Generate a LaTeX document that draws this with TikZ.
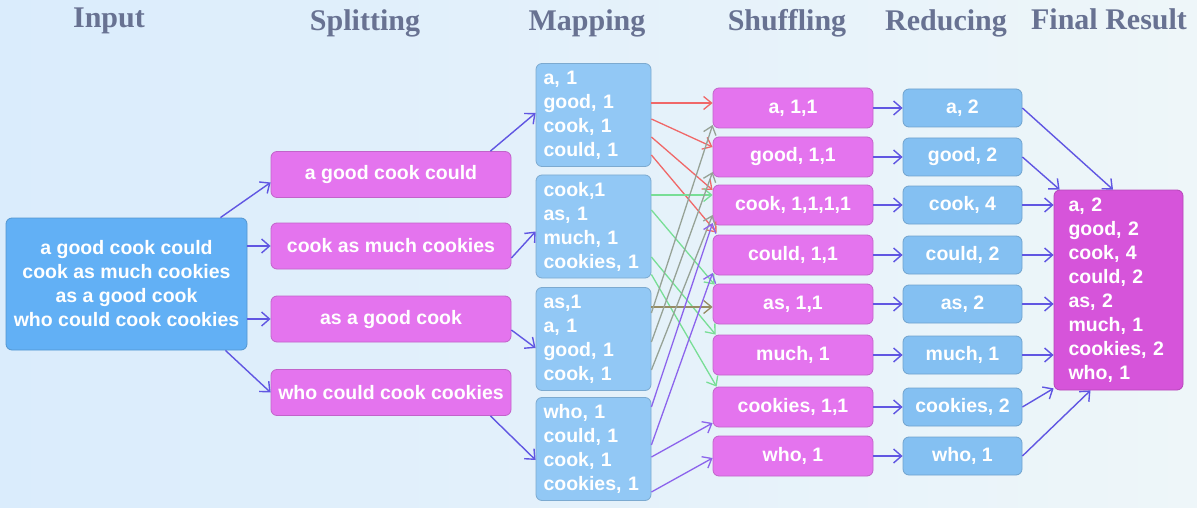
\documentclass[tikz,border=0pt]{standalone}
\usepackage{fontspec}
\setmainfont{Liberation Serif}
\setsansfont{Liberation Sans}
\usetikzlibrary{arrows.meta,calc}
\definecolor{bgL}{RGB}{218,236,252}
\definecolor{bgR}{RGB}{238,246,249}
\definecolor{inblue}{RGB}{98,176,245}
\definecolor{mapblue}{RGB}{146,200,245}
\definecolor{redblue}{RGB}{132,192,242}
\definecolor{magc}{RGB}{228,116,238}
\definecolor{finmag}{RGB}{214,84,218}
\definecolor{arrc}{RGB}{96,86,226}
\definecolor{hdc}{RGB}{104,114,146}
\definecolor{redc}{RGB}{240,104,104}
\definecolor{grnc}{RGB}{120,222,150}
\definecolor{gryc}{RGB}{150,162,150}
\definecolor{olvc}{RGB}{150,140,100}
\definecolor{purc}{RGB}{140,100,236}
\begin{document}
\begin{tikzpicture}[x=1pt,y=-1pt,
  box/.style={rounded corners=6pt, line width=0.8pt, text=white,
    font=\sffamily\bfseries\fontsize{19.5}{24}\selectfont, inner sep=0pt, align=center},
  inbox/.style={box, fill=inblue, draw=inblue!85!black, minimum width=241pt, minimum height=132pt},
  splitbox/.style={box, fill=magc, draw=magc!85!black, minimum width=240pt, minimum height=46pt},
  mapbox/.style={box, fill=mapblue, draw=mapblue!85!black, text width=100pt, inner xsep=7.5pt, align=left, minimum height=103pt},
  shufbox/.style={box, fill=magc, draw=magc!85!black, minimum width=160pt, minimum height=40pt},
  redbox/.style={box, fill=redblue, draw=redblue!85!black, minimum width=119pt, minimum height=38pt},
  finbox/.style={box, fill=finmag, draw=finmag!85!black, text width=100pt, inner xsep=14.5pt, align=left, minimum height=200pt},
  hd/.style={font=\bfseries\fontsize{30}{30}\selectfont, text=hdc, anchor=base, inner sep=0pt},
  arr/.style={-{Straight Barb[length=8pt,width=14pt]}, line width=1.4pt, draw=arrc},
  marr/.style={-{Straight Barb[length=8pt,width=13pt]}, line width=1.3pt, draw=#1},
]
\useasboundingbox (0,0) rectangle (1197,508);
\fill[left color=bgL, right color=bgR] (0,0) rectangle (1197,508);

% headers
\node[hd] (h1) at (109,28) {Input};
\node[hd] (h2) at (365,31) {Splitting};
\node[hd] (h3) at (587,31) {Mapping};
\node[hd] (h4) at (787,31) {Shuffling};
\node[hd] (h5) at (946,31) {Reducing};
\node[hd] (h6) at (1109,30) {Final Result};

% input
\node[inbox] (in) at (126.5,284) {a good cook could\\cook as much cookies\\as a good cook\\who could cook cookies};

% splitting
\node[splitbox] (s1) at (391,174.5) {a good cook could};
\node[splitbox] (s2) at (391,246) {cook as much cookies};
\node[splitbox] (s3) at (391,319) {as a good cook};
\node[splitbox] (s4) at (391,392.5) {who could cook cookies};

% mapping
\node[mapbox] (m1) at (593.5,115) {a, 1\\good, 1\\cook, 1\\could, 1};
\node[mapbox] (m2) at (593.5,226.5) {cook,1\\as, 1\\much, 1\\cookies, 1};
\node[mapbox] (m3) at (593.5,339) {as,1\\a, 1\\good, 1\\cook, 1};
\node[mapbox] (m4) at (593.5,449) {who, 1\\could, 1\\cook, 1\\cookies, 1};

% shuffling
\node[shufbox] (sh1) at (793,108) {a, 1,1};
\node[shufbox] (sh2) at (793,157) {good, 1,1};
\node[shufbox] (sh3) at (793,205) {cook, 1,1,1,1};
\node[shufbox] (sh4) at (793,255) {could, 1,1};
\node[shufbox] (sh5) at (793,304) {as, 1,1};
\node[shufbox] (sh6) at (793,355) {much, 1};
\node[shufbox] (sh7) at (793,407) {cookies, 1,1};
\node[shufbox] (sh8) at (793,456) {who, 1};

% reducing
\node[redbox] (r1) at (962.5,108) {a, 2};
\node[redbox] (r2) at (962.5,157) {good, 2};
\node[redbox] (r3) at (962.5,205) {cook, 4};
\node[redbox] (r4) at (962.5,255) {could, 2};
\node[redbox] (r5) at (962.5,304) {as, 2};
\node[redbox] (r6) at (962.5,355) {much, 1};
\node[redbox] (r7) at (962.5,407) {cookies, 2};
\node[redbox] (r8) at (962.5,456) {who, 1};

% final
\node[finbox] (fin) at (1118.5,290) {a, 2\\good, 2\\cook, 4\\could, 2\\as, 2\\much, 1\\cookies, 2\\who, 1};

% input -> splitting
\draw[arr] ([xshift=-27pt]in.north east) -- ([yshift=-8pt]s1.west);
\draw[arr] (in.east |- s2.west) -- (s2.west);
\draw[arr] (in.east |- s3.west) -- (s3.west);
\draw[arr] ([xshift=-22pt]in.south east) -- (s4.west);

% splitting -> mapping
\draw[arr] ([xshift=-21pt]s1.north east) -- ([yshift=2pt]m1.west);
\draw[arr] ([yshift=-12pt]s2.east) -- ([yshift=-5pt]m2.west);
\draw[arr] ([yshift=-11pt]s3.east) -- ([yshift=-9pt]m3.west);
\draw[arr] ([xshift=-21pt]s4.south east) -- ([yshift=-11pt]m4.west);

% mapping -> shuffling (red, M1)
\draw[marr=redc] ([yshift=12pt]m1.east) -- ([yshift=5pt]sh1.west);
\draw[marr=redc] ([yshift=-4pt]m1.east) -- ([yshift=10pt]sh2.west);
\draw[marr=redc] ([yshift=-22pt]m1.east) -- ([yshift=15pt]sh3.west);
\draw[marr=redc] ([yshift=-40pt]m1.east) -- ([xshift=4pt,yshift=2pt]sh4.north west);
% green, M2
\draw[marr=grnc] ([yshift=31.5pt]m2.east) -- ([yshift=10pt]sh3.west);
\draw[marr=grnc] ([yshift=16.5pt]m2.east) -- ([xshift=2pt,yshift=-1pt]sh5.north west);
\draw[marr=grnc] ([yshift=-30.5pt]m2.east) -- ([xshift=3pt]sh6.north west);
\draw[marr=grnc] ([yshift=-48pt]m2.east) -- ([xshift=4pt]sh7.north west);
% gray, M3
\draw[marr=olvc] ([yshift=32pt]m3.east) -- ([yshift=-3pt]sh5.west);
\draw[marr=gryc] ([yshift=26pt]m3.east) -- ([yshift=-17pt]sh1.west);
\draw[marr=gryc] ([yshift=-3pt]m3.east) -- ([yshift=-15pt]sh2.west);
\draw[marr=gryc] ([yshift=-31pt]m3.east) -- ([yshift=-10pt]sh3.west);
% purple, M4
\draw[marr=purc] ([yshift=42pt]m4.east) -- ([yshift=-18pt]sh3.west);
\draw[marr=purc] ([yshift=4pt]m4.east) -- ([yshift=-18pt]sh4.west);
\draw[marr=purc] ([yshift=-8pt]m4.east) -- ([yshift=-16pt]sh7.west);
\draw[marr=purc] ([yshift=-43pt]m4.east) -- ([yshift=-2pt]sh8.west);

% shuffling -> reducing
\foreach \i in {1,...,8}{\draw[arr] (sh\i.east) -- (r\i.west);}

% reducing -> final
\draw[arr] (r1.east) -- ([xshift=-5.5pt]fin.north);
\draw[arr] (r2.east) -- ([xshift=6pt]fin.north west);
\draw[arr] (r3.east) -- (fin.west |- r3.east);
\draw[arr] (r4.east) -- (fin.west |- r4.east);
\draw[arr] (r5.east) -- (fin.west |- r5.east);
\draw[arr] (r6.east) -- (fin.west |- r6.east);
\draw[arr] (r7.east) -- ([yshift=2pt]fin.south west);
\draw[arr] (r8.east) -- ([xshift=-28pt]fin.south);
\end{tikzpicture}
\end{document}
